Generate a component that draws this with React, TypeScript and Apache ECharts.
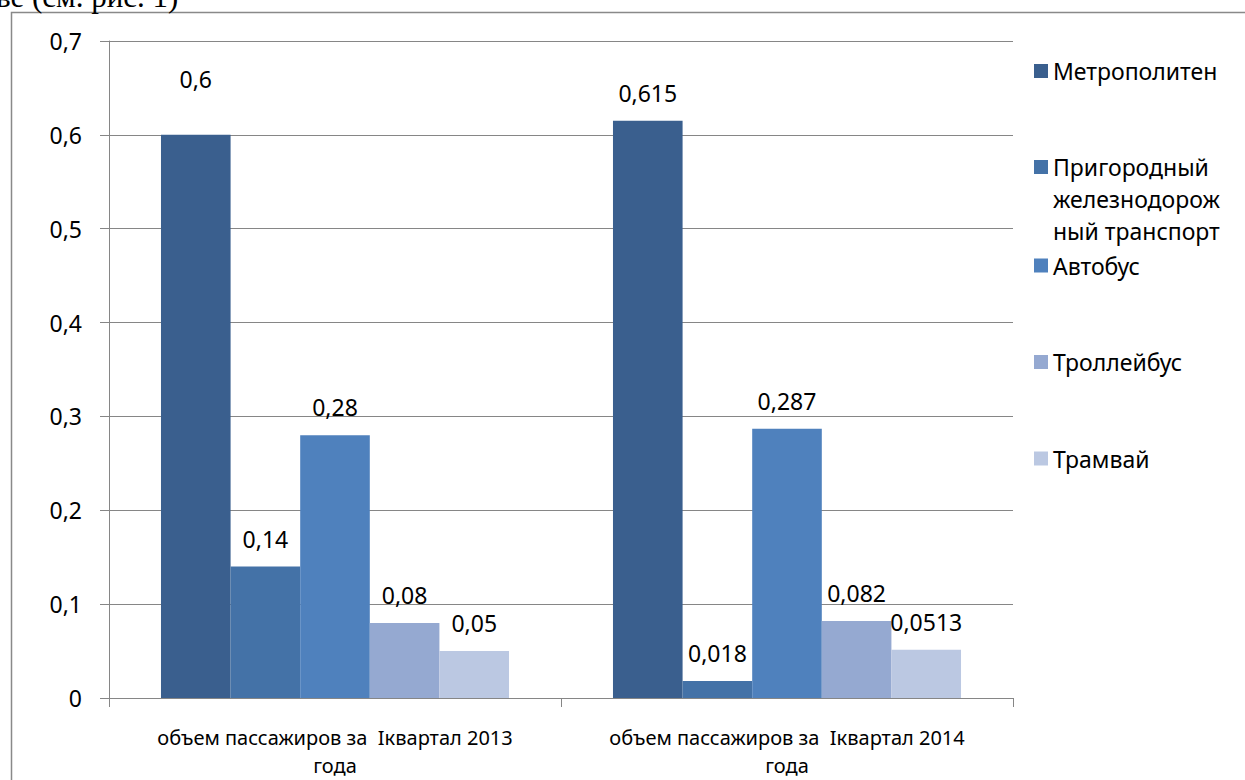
import React, { useEffect, useRef } from "react";
import * as echarts from "echarts";

const categories = [
  "объем пассажиров за  Iквартал 2013\nгода",
  "объем пассажиров за  Iквартал 2014\nгода",
];
const seriesNames = [
  "Метрополитен",
  "Пригородный железнодорожный транспорт",
  "Автобус",
  "Троллейбус",
  "Трамвай",
];
const metro = [0.6, 0.615];
const suburbanRail = [0.14, 0.018];
const bus = [0.28, 0.287];
const trolleybus = [0.08, 0.082];
const tram = [0.05, 0.0513];
const seriesValues = [metro, suburbanRail, bus, trolleybus, tram];
const colors = ["#3A5F8E", "#4472A7", "#4F81BD", "#95A9D1", "#BBC8E2"];
const legendLines = [
  "Метрополитен",
  "Пригородный\nжелезнодорож\nный транспорт",
  "Автобус",
  "Троллейбус",
  "Трамвай",
];
const legendIconCenters = [71, 167, 265.5, 362, 458.5];

const FONT = "Noto Sans";
const comma = (v: number) => String(v).replace(".", ",");

export default function App() {
  const ref = useRef<HTMLDivElement>(null);
  useEffect(() => {
    if (!ref.current) return;
    const chart = echarts.init(ref.current, undefined, { renderer: "svg" });
    const LH = 32;
    const legends = seriesNames.map((name, i) => {
      const lines = legendLines[i].split("\n").length;
      // pad with empty lines above so the first text line sits beside the icon
      const prefix = "\n".repeat(lines - 1);
      const total = lines * 2 - 1;
      const top = legendIconCenters[i] - (total * LH) / 2;
      return {
        data: [name],
        orient: "vertical",
        left: 1034,
        top: top,
        padding: 0,
        itemWidth: 14,
        itemHeight: 14,
        icon: "rect",
        selectedMode: false,
        formatter: () => prefix + legendLines[i],
        textStyle: {
          fontFamily: FONT,
          fontSize: 23,
          color: "#000",
          lineHeight: LH,
        },
      };
    });
    chart.setOption({
      animation: false,
      color: colors,
      grid: {
        left: 109,
        right: 232,
        top: 41,
        bottom: 82,
        containLabel: false,
        outerBoundsMode: "none",
      },
      legend: legends,
      xAxis: {
        type: "category",
        data: categories,
        axisLine: { lineStyle: { color: "#868686", width: 1 } },
        axisTick: { show: true, length: 9, lineStyle: { color: "#868686" } },
        axisLabel: {
          interval: 0,
          fontFamily: FONT,
          fontSize: 20,
          color: "#000",
          lineHeight: 28,
          margin: 25,
        },
      },
      yAxis: {
        type: "value",
        min: 0,
        max: 0.7,
        interval: 0.1,
        axisLine: { show: true, lineStyle: { color: "#868686", width: 1 } },
        axisTick: { show: true, length: 9, lineStyle: { color: "#868686" } },
        splitLine: { lineStyle: { color: "#868686", width: 1 } },
        axisLabel: {
          fontFamily: FONT,
          fontSize: 23,
          color: "#000",
          margin: 27,
          formatter: (v: number) => comma(Math.round(v * 10) / 10),
        },
      },
      series: seriesNames.map((name, i) => ({
        name,
        type: "bar",
        data: seriesValues[i].map((v, j) =>
          i === 0 && j === 0 ? { value: v, label: { distance: 44 } } : v
        ),
        barGap: "0%",
        barCategoryGap: "23%",
        itemStyle: { color: colors[i] },
        label: {
          show: true,
          position: "top",
          distance: 16,
          fontFamily: FONT,
          fontSize: 23,
          lineHeight: 24,
          color: "#000",
          formatter: (p: any) => comma(p.value),
        },
      })),
      graphic: [
        {
          type: "rect",
          shape: { x: 11.5, y: 12.5, width: 1400, height: 1000 },
          style: { fill: "none", stroke: "#898989", lineWidth: 1.5 },
          silent: true,
        },
        {
          type: "text",
          x: -4,
          y: -4,
          style: {
            text: "ве (см. рис. 1)",
            fontFamily: "Liberation Serif",
            fontSize: 31,
            fill: "#000",
            verticalAlign: "middle",
            align: "left",
          },
          silent: true,
        },
      ],
    });
    return () => chart.dispose();
  }, []);
  return (
    <div
      ref={ref}
      style={{ position: "absolute", left: 0, top: 0, width: 1245, height: 780 }}
    />
  );
}
